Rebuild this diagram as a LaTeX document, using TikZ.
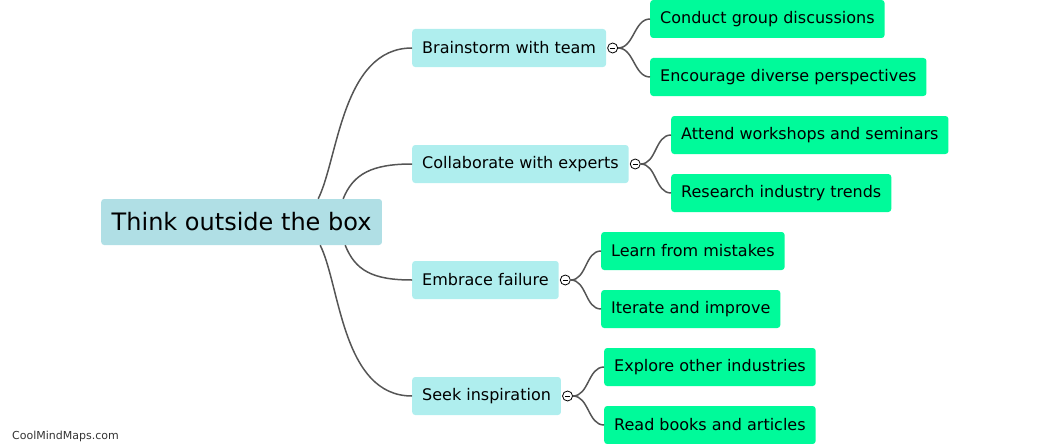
\documentclass[tikz,border=0pt]{standalone}
\usepackage{fontspec}
\setmainfont{DejaVu Sans}
\usetikzlibrary{positioning, calc}
\definecolor{rootblue}{HTML}{B0DFE5}
\definecolor{topicblue}{HTML}{AFEEEE}
\definecolor{ideagreen}{HTML}{00FA9A}
\definecolor{linkgray}{HTML}{555555}
\begin{document}
\begin{tikzpicture}[
				x=1pt, y=-1pt,
				box/.style={rounded corners=3pt, inner xsep=10pt, inner ysep=0pt, minimum height=38pt, anchor=west, font=\fontsize{16}{19}\selectfont},
				topic/.style={box, fill=topicblue},
				idea/.style={box, fill=ideagreen},
				link/.style={draw=linkgray, line width=1.5pt},
				fold/.style={circle, draw=black, fill=white, inner sep=0pt, minimum size=10pt, line width=0.8pt,
					path picture={\draw[line width=0.8pt] ([xshift=2.5pt]path picture bounding box.west) -- ([xshift=-2.5pt]path picture bounding box.east);}}
				]
				\useasboundingbox (0,0) rectangle (1062,444);
				\node[box, fill=rootblue, minimum height=46pt, inner xsep=10.5pt, font=\fontsize{24}{28}\selectfont] (root) at (101,222) {Think outside the box};
				\node[topic] (brain) at (412,48) {Brainstorm with team};
				\node[topic] (collab) at (412,164) {Collaborate with experts};
				\node[topic] (embrace) at (412,280) {Embrace failure};
				\node[topic] (seek) at (412,396) {Seek inspiration};
				\node[idea] (conduct) at (650,19) {Conduct group discussions};
				\node[idea] (encourage) at (650,77) {Encourage diverse perspectives};
				\node[idea] (attend) at (671,135) {Attend workshops and seminars};
				\node[idea] (research) at (671,193) {Research industry trends};
				\node[idea] (learn) at (601,251) {Learn from mistakes};
				\node[idea] (iterate) at (601,309) {Iterate and improve};
				\node[idea] (explore) at (604,367) {Explore other industries};
				\node[idea] (read) at (604,425) {Read books and articles};
				% root to topics
				\draw[link] ($(root.north east)+(-64,0)$) .. controls +(20,-40) and +(-70,0) .. (brain.west);
				\draw[link] ($(root.north east)+(-39,0)$) .. controls +(10,-25) and +(-40,0) .. (collab.west);
				\draw[link] ($(root.south east)+(-37,0)$) .. controls +(10,25) and +(-40,0) .. (embrace.west);
				\draw[link] ($(root.south east)+(-62,0)$) .. controls +(20,40) and +(-70,0) .. (seek.west);
				% fold marks
				\node[fold, right=1pt of brain] (fbrain) {};
				\node[fold, right=1pt of collab] (fcollab) {};
				\node[fold, right=1pt of embrace] (fembrace) {};
				\node[fold, right=1pt of seek] (fseek) {};
				% topics to ideas
				\foreach \f/\a/\b in {fbrain/conduct/encourage, fcollab/attend/research, fembrace/learn/iterate, fseek/explore/read}{
					\draw[link] (\f.east) .. controls +(16,0) and +(-16,0) .. (\a.west);
					\draw[link] (\f.east) .. controls +(16,0) and +(-16,0) .. (\b.west);
				}
				\node[anchor=west, text=black!80, font=\fontsize{11}{13}\selectfont, inner sep=0pt] (mark) at (12,436) {CoolMindMaps.com};
			\end{tikzpicture}
\end{document}
